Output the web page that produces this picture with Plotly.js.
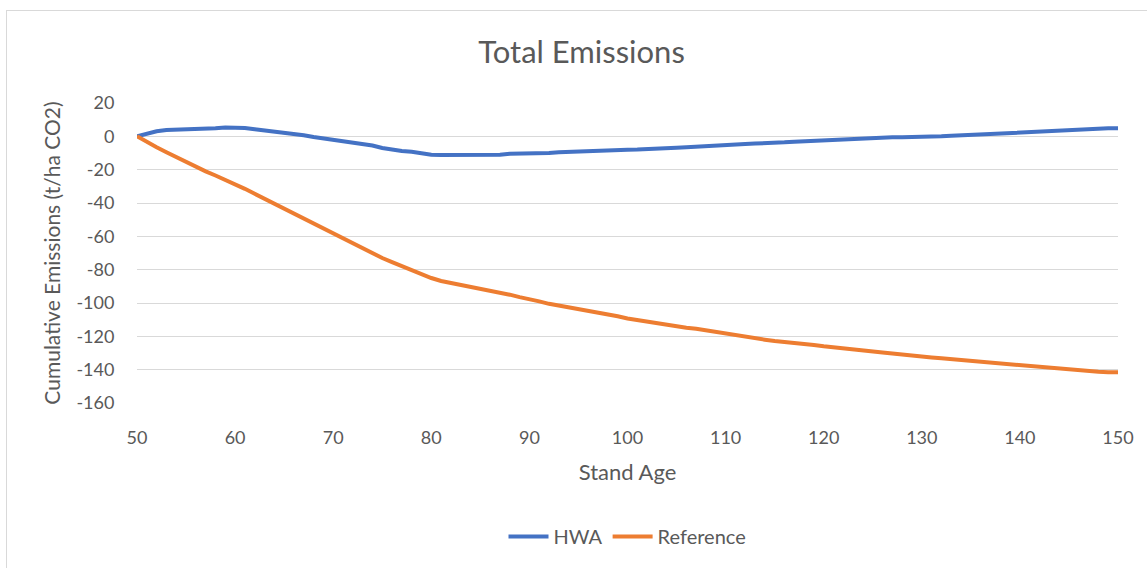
<!DOCTYPE html>
<html>
<head>
<meta charset="utf-8">
<script src="https://cdn.plot.ly/plotly-3.0.1.min.js"></script>
<style>
  html, body { margin: 0; padding: 0; background: #fff; overflow: hidden; }
  #chart { width: 1147px; height: 568px; }
  #frame { position: absolute; left: 6px; top: 10px; width: 1300px; height: 800px;
           border: 1px solid #d9d9d9; pointer-events: none; }
</style>
</head>
<body>
<div id="chart"></div>
<div id="frame"></div>
<script>
// Stand age, years 50..150
const standAge = [
  50,51,52,53,54,55,56,57,58,59,60,61,62,63,64,65,66,67,68,69,
  70,71,72,73,74,75,76,77,78,79,80,81,82,83,84,85,86,87,88,89,
  90,91,92,93,94,95,96,97,98,99,100,101,102,103,104,105,106,107,108,109,
  110,111,112,113,114,115,116,117,118,119,120,121,122,123,124,125,126,127,128,129,
  130,131,132,133,134,135,136,137,138,139,140,141,142,143,144,145,146,147,148,149,150
];

// Cumulative emissions, HWA scenario (t/ha CO2)
const hwa = [
  0,1.5,3,3.8,4,4,4,4.2,4.8,5.3,5.4,5,4.3,3.6,3,2.3,1.6,0.6,-0.4,-1.2,
  -2,-3,-3.8,-4.5,-5.5,-7,-8.2,-8.8,-9.3,-10.2,-11,-11.2,-11.2,-11.2,-11.2,-11.2,-11.2,-11,-10.5,-10.5,
  -10.5,-10.3,-10,-9.5,-9.2,-9,-8.8,-8.7,-8.5,-8.2,-8,-7.9,-7.5,-7.2,-7,-6.8,-6.5,-6.1,-5.8,-5.5,
  -5.2,-5,-4.6,-4.3,-4.2,-4,-3.6,-3.2,-2.9,-2.6,-2.3,-2,-1.6,-1.2,-1,-0.7,-0.6,-0.6,-0.6,-0.6,
  -0.6,-0.4,0,0.3,0.6,1,1.3,1.6,2,2.3,2.6,2.8,3,3.2,3.5,3.8,4.1,4.5,4.7,4.8,4.8
];

// Cumulative emissions, Reference scenario (t/ha CO2)
const reference = [
  0,-3.5,-6.5,-9.5,-12.5,-15.5,-18.5,-21,-23.5,-26,-28.5,-31.5,-34.5,-37.5,-40.5,-43.5,-46.5,-49.5,-52.5,-55.5,
  -58.5,-61.5,-64.5,-67,-70,-73,-75.5,-78,-80.5,-83,-85,-86.8,-88,-89,-90,-91,-92.5,-94,-95,-96.5,
  -97.5,-99,-100.5,-101.5,-102.5,-104,-105,-106,-107,-108,-109.3,-110.3,-111,-112,-113,-114,-114.8,-115.5,-116.5,-117.5,
  -118.3,-119,-120,-121,-122,-122.8,-123.3,-124,-124.5,-125.2,-126,-126.7,-127.2,-127.7,-128.3,-129,-129.7,-130.3,-131,-131.5,
  -132,-132.7,-133.2,-133.7,-134.3,-135,-135.5,-136,-136.7,-137.3,-137.8,-138.3,-138.8,-139.3,-139.8,-140.3,-140.6,-141,-141.3,-141.5,-141.5
];

const xTicks = [50,60,70,80,90,100,110,120,130,140,150];
const yTicks = [20,0,-20,-40,-60,-80,-100,-120,-140,-160];

const FONT = 'Lato, "Open Sans", sans-serif';
const GREY = '#595959';

const traces = [
  { x: standAge, y: hwa, name: 'HWA', type: 'scatter', mode: 'lines',
    line: { color: '#4472C4', width: 4 } },
  { x: standAge, y: reference, name: 'Reference', type: 'scatter', mode: 'lines',
    line: { color: '#ED7D31', width: 4 } }
];

const layout = {
  width: 1147, height: 568,
  paper_bgcolor: '#ffffff', plot_bgcolor: '#ffffff',
  font: { family: FONT, color: GREY },
  margin: { l: 137, r: 29, t: 103, b: 163 },
  title: { text: 'Total Emissions', font: { family: FONT, size: 31, color: GREY },
           x: 0.507, xanchor: 'center', y: 0.908, yanchor: 'middle' },
  xaxis: {
    range: [50, 150], tickvals: xTicks, ticktext: xTicks.map(String),
    showgrid: false, zeroline: false, showline: false,
    ticks: 'outside', ticklen: 0, ticklabelstandoff: 18,
    tickfont: { family: FONT, size: 18, color: GREY },
    title: { text: 'Stand Age', font: { family: FONT, size: 22, color: GREY }, standoff: 18 },
    automargin: false
  },
  yaxis: {
    range: [-160, 20], tickvals: yTicks, ticktext: yTicks.map(String),
    showgrid: true, gridcolor: '#d9d9d9', gridwidth: 1,
    zeroline: false, showline: false,
    ticks: 'outside', ticklen: 0, ticklabelstandoff: 18,
    tickfont: { family: FONT, size: 18, color: GREY },
    title: { text: 'Cumulative Emissions (t/ha CO2)', font: { family: FONT, size: 21, color: GREY }, standoff: 10 },
    automargin: false
  },
  showlegend: true,
  legend: { orientation: 'h', x: 0.5, xanchor: 'center', y: -0.445, yanchor: 'middle',
            font: { family: FONT, size: 20, color: GREY }, itemwidth: 40, tracegroupgap: 0 }
};

Plotly.newPlot('chart', traces, layout, { displayModeBar: false, staticPlot: true });
</script>
</body>
</html>
